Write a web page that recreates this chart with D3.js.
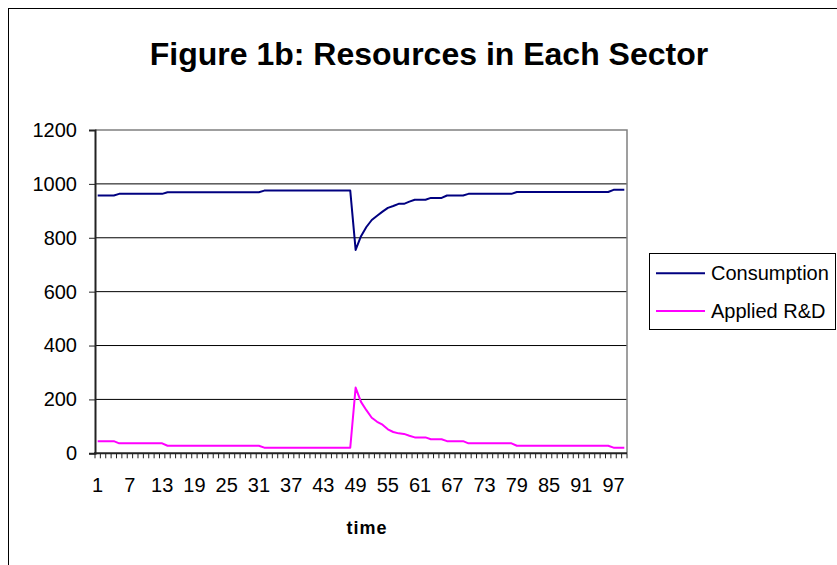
<!DOCTYPE html>
<html>
<head>
<meta charset="utf-8">
<script src="https://cdn.jsdelivr.net/npm/d3@7"></script>
<style>
  html, body { margin: 0; padding: 0; background: #fff; }
  svg { display: block; font-family: "Liberation Sans", Arial, sans-serif; }
</style>
</head>
<body>
<svg id="chart" width="837" height="565"></svg>
<script>
// Time periods 1..99
const times = d3.range(1, 100);

// Resources allocated to consumption in each period
const consumption = [
  957, 957, 957, 957, 963, 963, 963, 963, 963, 963,   // 1-10
  963, 963, 963, 969, 969, 969, 969, 969, 969, 969,   // 11-20
  969, 969, 969, 969, 969, 969, 969, 969, 969, 969,   // 21-30
  969, 975, 975, 975, 975, 975, 975, 975, 975, 975,   // 31-40
  975, 975, 975, 975, 975, 975, 975, 975, 755, 806,   // 41-50
  840, 866, 882, 897, 911, 918, 926, 926, 934, 941,   // 51-60
  941, 941, 948, 948, 948, 957, 957, 957, 957, 963,   // 61-70
  963, 963, 963, 963, 963, 963, 963, 963, 970, 970,   // 71-80
  970, 970, 970, 970, 970, 970, 970, 970, 970, 970,   // 81-90
  970, 970, 970, 970, 970, 970, 978, 978, 978         // 91-99
];

// Resources allocated to applied R&D in each period
const appliedRD = [
  45, 45, 45, 45, 37, 37, 37, 37, 37, 37,             // 1-10
  37, 37, 37, 28, 28, 28, 28, 28, 28, 28,             // 11-20
  28, 28, 28, 28, 28, 28, 28, 28, 28, 28,             // 21-30
  28, 21, 21, 21, 21, 21, 21, 21, 21, 21,             // 31-40
  21, 21, 21, 21, 21, 21, 21, 21, 244, 191,           // 41-50
  160, 132, 117, 106, 89, 79, 74, 72, 65, 59,         // 51-60
  59, 59, 52, 52, 52, 45, 45, 45, 45, 37,             // 61-70
  37, 37, 37, 37, 37, 37, 37, 37, 28, 28,             // 71-80
  28, 28, 28, 28, 28, 28, 28, 28, 28, 28,             // 81-90
  28, 28, 28, 28, 28, 28, 21, 21, 21                  // 91-99
];

const yTicks = [0, 200, 400, 600, 800, 1000, 1200];
const xLabelTimes = [1, 7, 13, 19, 25, 31, 37, 43, 49, 55, 61, 67, 73, 79, 85, 91, 97];

const seriesNames = ["Consumption", "Applied R&D"];
const seriesColors = ["#000080", "#FF00FF"];
const seriesData = [consumption, appliedRD];

const svg = d3.select("#chart");

// Outer chart frame
svg.append("rect")
  .attr("x", 8.5).attr("y", 8.5)
  .attr("width", 900).attr("height", 600)
  .attr("fill", "#fff").attr("stroke", "#000").attr("stroke-width", 1);

// Plot area
const plot = { left: 95, right: 627, top: 130, bottom: 453.3 };

const x = d3.scaleBand()
  .domain(times)
  .range([plot.left, plot.right])
  .padding(0);
const xc = t => x(t) + x.bandwidth() / 2;

const y = d3.scaleLinear()
  .domain([0, 1200])
  .range([plot.bottom, plot.top]);

// Title
svg.append("text")
  .attr("x", 429).attr("y", 65)
  .attr("text-anchor", "middle")
  .attr("font-size", 32).attr("font-weight", "bold")
  .attr("fill", "#000")
  .text("Figure 1b: Resources in Each Sector");

// Horizontal gridlines
svg.append("g")
  .selectAll("line")
  .data(yTicks.filter(v => v > 0 && v < 1200))
  .join("line")
  .attr("x1", plot.left).attr("x2", plot.right)
  .attr("y1", d => y(d)).attr("y2", d => y(d))
  .attr("stroke", "#000").attr("stroke-width", 1);

// Top and right borders of the plot area
svg.append("path")
  .attr("d", `M${plot.left},${y(1200)}H${plot.right}V${plot.bottom}`)
  .attr("fill", "none").attr("stroke", "#808080").attr("stroke-width", 1.5);

// Y axis
const yAxis = d3.axisLeft(y)
  .tickValues(yTicks)
  .tickSize(6)
  .tickPadding(12)
  .tickFormat(d3.format("d"));
const gy = svg.append("g")
  .attr("transform", `translate(${plot.left},0)`)
  .call(yAxis);
gy.select(".domain").attr("stroke", "#222").attr("stroke-width", 2);
gy.selectAll(".tick line").attr("stroke", "#222");
gy.selectAll(".tick text")
  .attr("font-size", 20).attr("fill", "#000")
  .attr("font-family", "'Liberation Sans', Arial, sans-serif");

// X axis: tick marks at every category boundary
const boundaries = d3.range(0, times.length + 1).map(i => plot.left + i * x.bandwidth());
svg.append("g")
  .selectAll("line")
  .data(boundaries)
  .join("line")
  .attr("x1", d => d).attr("x2", d => d)
  .attr("y1", plot.bottom).attr("y2", plot.bottom + 5)
  .attr("stroke", "#222").attr("stroke-width", 1);

svg.append("line")
  .attr("x1", plot.left - 1).attr("x2", plot.right)
  .attr("y1", plot.bottom).attr("y2", plot.bottom)
  .attr("stroke", "#222").attr("stroke-width", 2);

// X tick labels
svg.append("g")
  .selectAll("text")
  .data(xLabelTimes)
  .join("text")
  .attr("x", d => xc(d))
  .attr("y", 492)
  .attr("text-anchor", "middle")
  .attr("font-size", 20).attr("fill", "#000")
  .text(d => d);

// X axis title
svg.append("text")
  .attr("x", 367).attr("y", 534)
  .attr("text-anchor", "middle")
  .attr("font-size", 18).attr("font-weight", "bold")
  .attr("letter-spacing", 1)
  .attr("fill", "#000")
  .text("time");

// Series lines
const line = d3.line()
  .x((d, i) => xc(times[i]))
  .y(d => y(d));

svg.append("g")
  .selectAll("path")
  .data(seriesData)
  .join("path")
  .attr("d", d => line(d))
  .attr("fill", "none")
  .attr("stroke", (d, i) => seriesColors[i])
  .attr("stroke-width", 2)
  .attr("stroke-linejoin", "round");

// Legend
const legend = svg.append("g");
legend.append("rect")
  .attr("x", 649.5).attr("y", 253.5)
  .attr("width", 186).attr("height", 76)
  .attr("fill", "#fff").attr("stroke", "#000").attr("stroke-width", 1);

const legendRows = legend.selectAll("g.row")
  .data(seriesNames)
  .join("g")
  .attr("class", "row")
  .attr("transform", (d, i) => `translate(0,${i === 0 ? 273.3 : 311})`);
legendRows.append("line")
  .attr("x1", 656).attr("x2", 705)
  .attr("y1", 0).attr("y2", 0)
  .attr("stroke", (d, i) => seriesColors[i])
  .attr("stroke-width", 2);
legendRows.append("text")
  .attr("x", 711).attr("y", 7)
  .attr("font-size", 20).attr("fill", "#000")
  .text(d => d);
</script>
</body>
</html>
